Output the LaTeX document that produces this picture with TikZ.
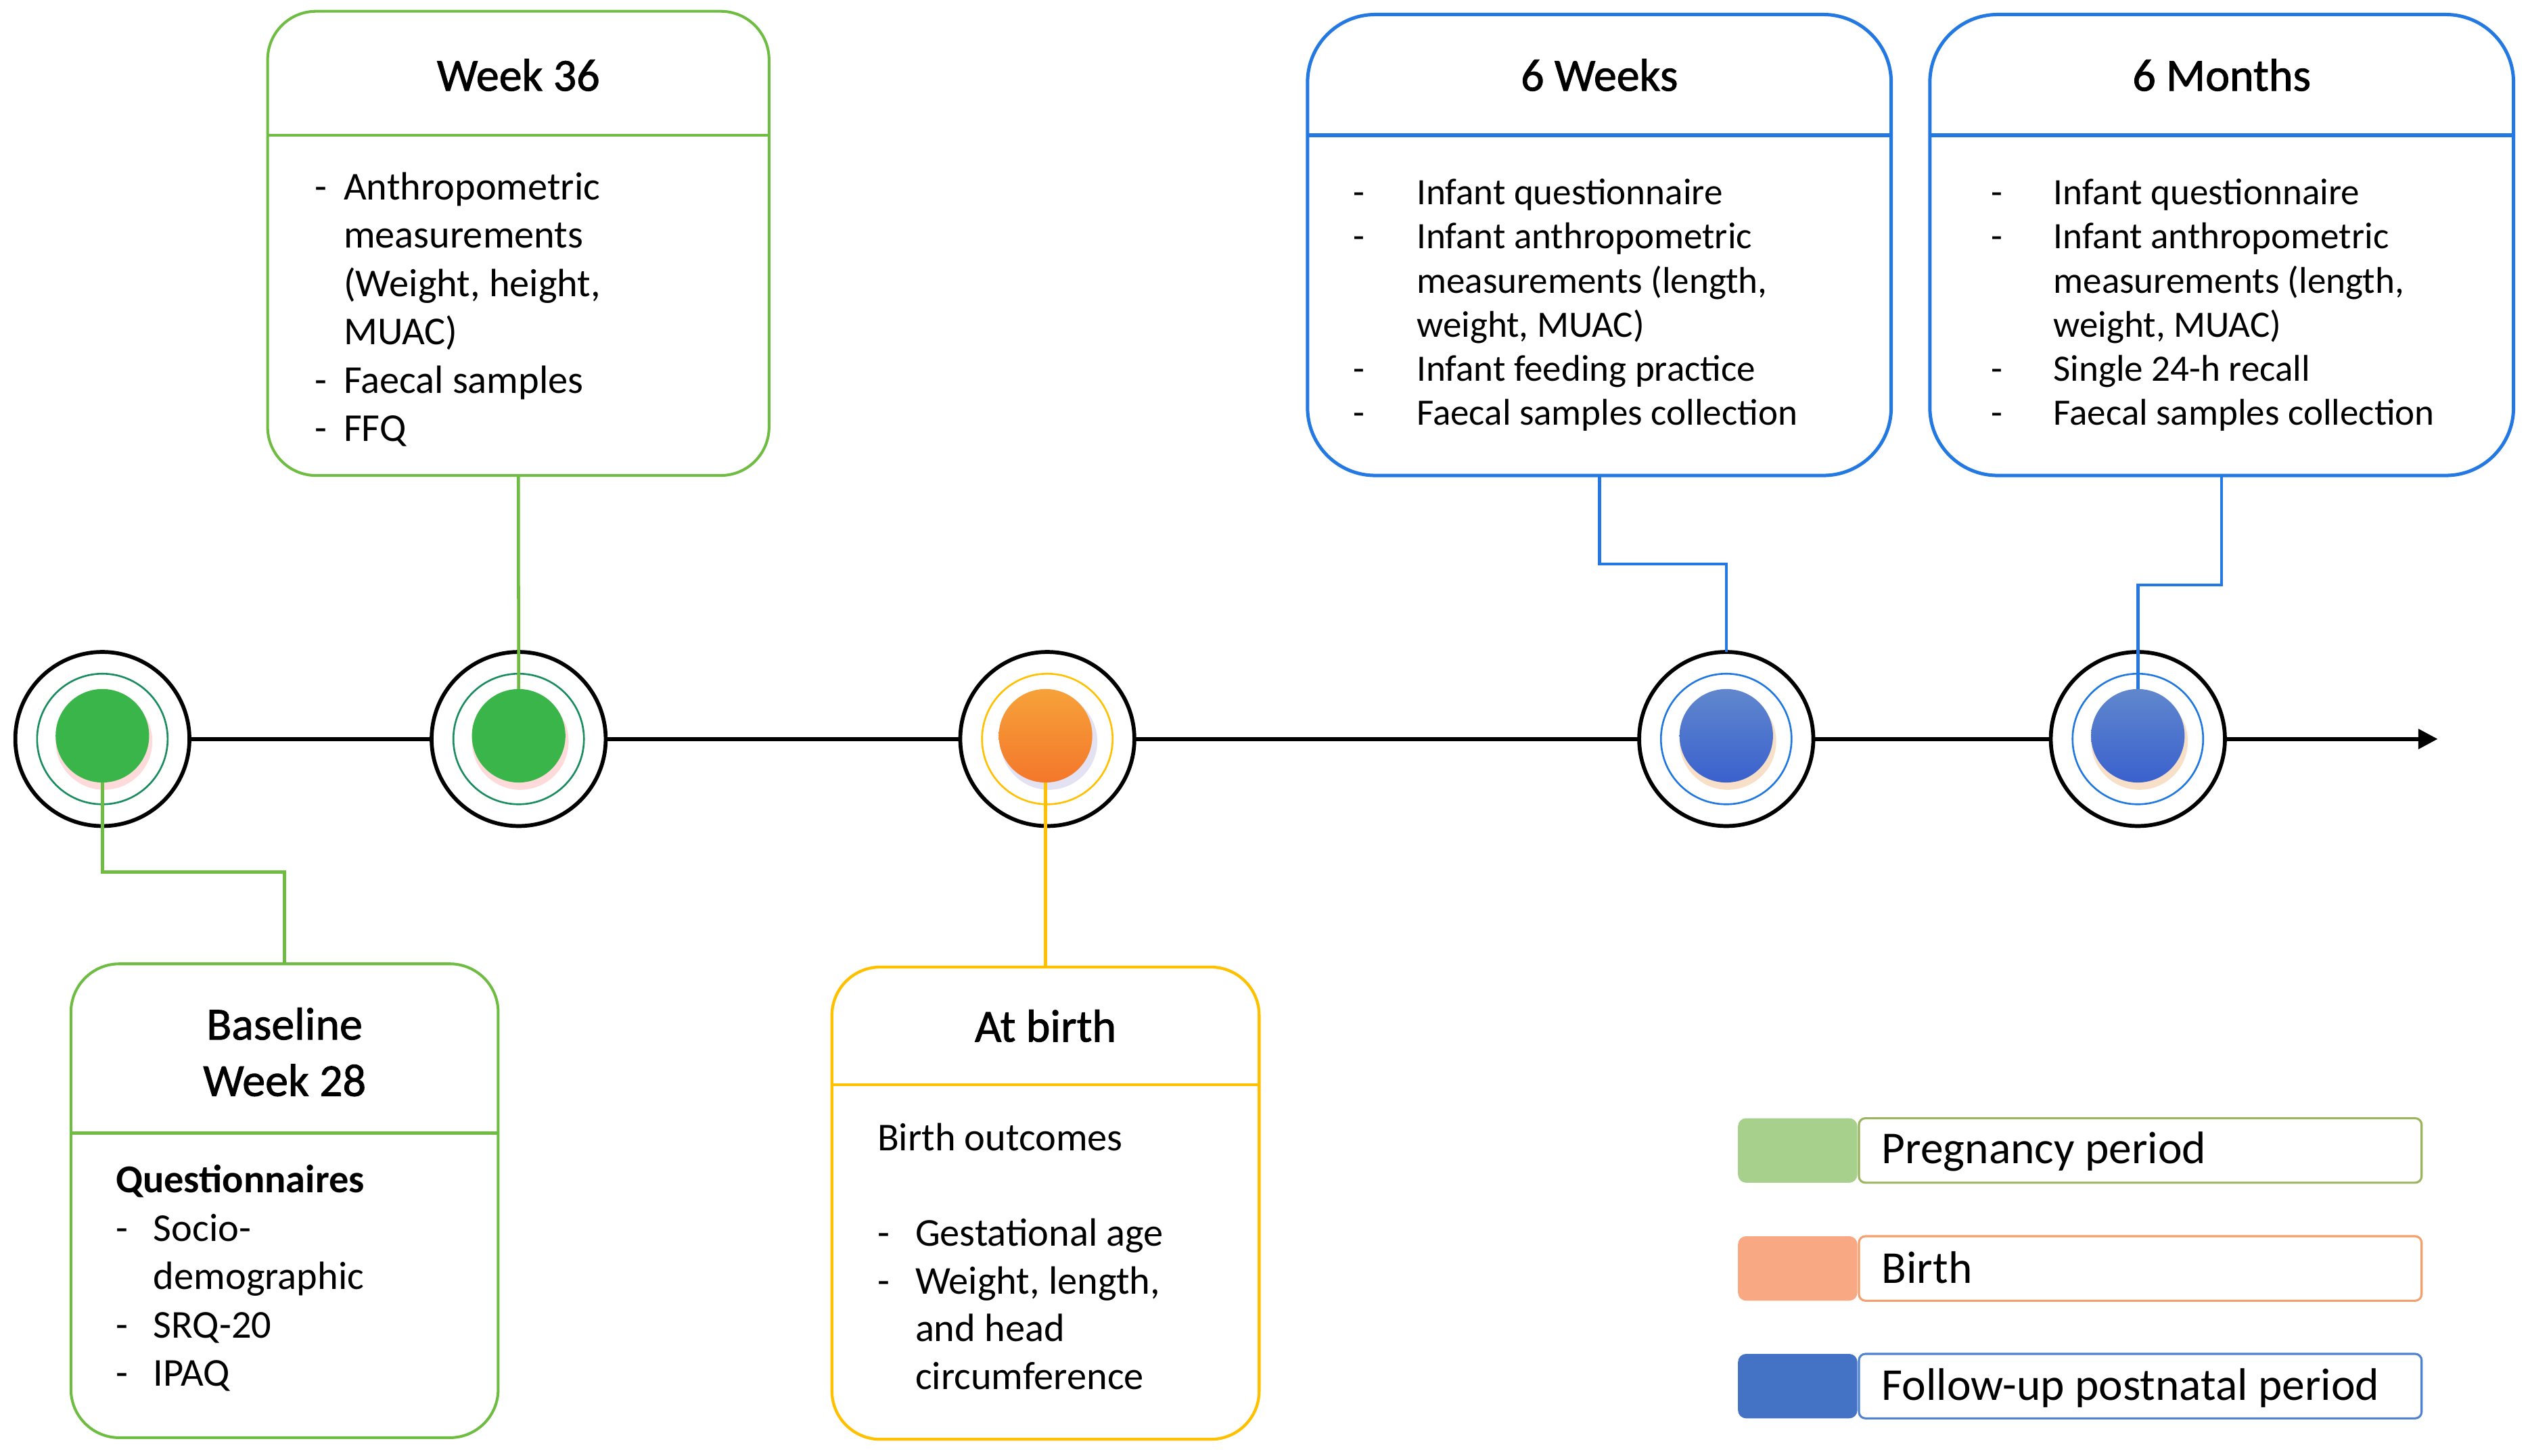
\documentclass[tikz,border=0pt]{standalone}
\usepackage{fontspec}
\setmainfont{Carlito}
\newfontfamily\ttlfont[FakeBold=1.3]{Carlito}
\usepackage{array}
\usetikzlibrary{arrows.meta}
\definecolor{gline}{RGB}{110,188,66}
\definecolor{gdisk}{RGB}{57,181,74}
\definecolor{gring}{RGB}{25,140,95}
\definecolor{yline}{RGB}{255,192,0}
\definecolor{odisk}{RGB}{243,125,45}
\definecolor{bline}{RGB}{36,120,226}
\definecolor{bdisk}{RGB}{68,114,196}
\definecolor{bring}{RGB}{31,119,224}
\definecolor{lgfill}{RGB}{168,208,141}
\definecolor{lgbord}{RGB}{155,180,95}
\definecolor{lofill}{RGB}{248,168,130}
\definecolor{lobord}{RGB}{244,160,110}
\definecolor{lbfill}{RGB}{68,114,196}
\definecolor{lbbord}{RGB}{80,130,210}
\newcommand{\dsh}[1]{\makebox[#1][l]{-}}
\begin{document}
\begin{tikzpicture}[x=1pt,y=-1pt,
  phasebox/.style={draw, rounded corners=30pt, inner sep=0pt, outer sep=0pt, fill=white},
  gbox/.style={phasebox, draw=gline, line width=1.7pt},
  ybox/.style={phasebox, draw=yline, line width=1.8pt},
  bbox/.style={phasebox, draw=bline, line width=2.1pt, rounded corners=42pt},
  ttl/.style={font=\ttlfont\fontsize{28.5}{35}\selectfont, align=center, inner sep=0pt},
  body/.style={font=\fontsize{24.5}{30}\selectfont, inner sep=0pt, anchor=base west},
  bbody/.style={font=\fontsize{23.1}{27.35}\selectfont, inner sep=0pt, anchor=base west},
  ring/.style={circle, draw=black, line width=2.4pt, fill=white, minimum size=108pt, inner sep=0pt, outer sep=0pt},
  iring/.style={circle, line width=1.1pt, minimum size=81pt, inner sep=0pt, outer sep=0pt},
  disk/.style={circle, minimum size=58pt, inner sep=0pt, outer sep=0pt},
  tl/.style={draw=black, line width=2.5pt},
  gconn/.style={draw=gline, line width=1.9pt},
  yconn/.style={draw=yline, line width=2.1pt},
  bconn/.style={draw=bline, line width=1.9pt},
  legsq/.style={rounded corners=5pt, minimum width=74pt, minimum height=40pt, inner sep=0pt, outer sep=0pt},
  legtx/.style={draw, fill=white, rounded corners=4pt, line width=1.3pt, minimum width=349pt, minimum height=40pt, inner sep=0pt, outer sep=0pt},
  legfont/.style={font=\fontsize{28.3}{34}\selectfont, inner sep=0pt, anchor=base west}
]
\useasboundingbox (0,0) rectangle (1568,903);

% ---------- timeline rings ----------
\node[ring] (r1) at (63.5,458.5) {};
\node[ring] (r2) at (321.7,458.5) {};
\node[ring] (r3) at (649.6,458.5) {};
\node[ring] (r4) at (1070.7,458.5) {};
\node[ring] (r5) at (1326,458.5) {};
\coordinate (tend) at (1512,458.5);

\draw[tl] (r1) -- (r2);
\draw[tl] (r2) -- (r3);
\draw[tl] (r3) -- (r4);
\draw[tl] (r4) -- (r5);
\draw[tl, -{Triangle[length=12pt,width=12pt]}] (r5) -- (tend);

\node[iring, draw=gring] (i1) at (63.5,458.5) {};
\node[iring, draw=gring] (i2) at (321.7,458.5) {};
\node[iring, draw=yline] (i3) at (649.6,458.5) {};
\node[iring, draw=bring] (i4) at (1070.7,458.5) {};
\node[iring, draw=bring] (i5) at (1326,458.5) {};

% soft shadows
\fill[red!25!pink!60, opacity=.55] (64.5,460) circle (30);
\fill[red!25!pink!60, opacity=.55] (322.7,460) circle (30);
\fill[cyan!20!blue!15, opacity=.7] (650.6,460) circle (30);
\fill[brown!45!orange!40, opacity=.6] (1071.7,460) circle (30);
\fill[brown!45!orange!40, opacity=.6] (1327,460) circle (30);

\node[disk, fill=gdisk] (d1) at (63.5,456.5) {};
\node[disk, fill=gdisk] (d2) at (321.7,456.5) {};
\node[disk, top color=odisk!80!yellow!90!white, bottom color=odisk!95!red] (d3) at (648.5,456.5) {};
\node[disk, top color=bdisk!85!white, bottom color=bdisk!85!blue] (d4) at (1070.7,456.5) {};
\node[disk, top color=bdisk!85!white, bottom color=bdisk!85!blue] (d5) at (1326,456.5) {};

% ---------- boxes ----------
\node[gbox, minimum width=311pt, minimum height=288pt] (w36) at (321.5,151) {};
\draw[draw=gline, line width=1.7pt] (w36.west |- 0,84) -- (w36.east |- 0,84);
\node[ttl] (w36t) at (321.5,46.5) {Week 36};
\node[body] (w36b) at (195,123.8) {\begin{tabular}[t]{@{}l@{}l@{}}
\dsh{18pt} & Anthropometric\\
 & measurements\\
 & (Weight, height,\\
 & MUAC)\\
\dsh{18pt} & Faecal samples\\
\dsh{18pt} & FFQ
\end{tabular}};

\node[gbox, minimum width=265pt, minimum height=294pt] (base) at (176.5,745) {};
\draw[draw=gline, line width=1.7pt] (base.west |- 0,703) -- (base.east |- 0,703);
\node[ttl] (baset) at (176.5,652.7) {Baseline\\Week 28};
\node[body] (baseb) at (71.6,740) {\begin{tabular}[t]{@{}l@{}l@{}}
\multicolumn{2}{@{}l@{}}{\bfseries Questionnaires}\\
\dsh{23.4pt} & Socio-\\
 & demographic\\
\dsh{23.4pt} & SRQ-20\\
\dsh{23.4pt} & IPAQ
\end{tabular}};

\node[ybox, minimum width=265pt, minimum height=293pt] (birth) at (648.5,746.5) {};
\draw[draw=yline, line width=1.8pt] (birth.west |- 0,673) -- (birth.east |- 0,673);
\node[ttl] (birtht) at (648.5,636.5) {At birth};
\node[body, font=\fontsize{24.5}{29.6}\selectfont] (birthb) at (544,714) {\begin{tabular}[t]{@{}l@{}l@{}}
\multicolumn{2}{@{}l@{}}{Birth outcomes}\\
 & \\
\dsh{23.5pt} & Gestational age\\
\dsh{23.5pt} & Weight, length,\\
 & and head\\
 & circumference
\end{tabular}};

\node[bbox, minimum width=362pt, minimum height=286pt] (wk6) at (992,152) {};
\draw[draw=bline, line width=2.6pt] (wk6.west |- 0,84) -- (wk6.east |- 0,84);
\node[ttl] (wk6t) at (992,46.5) {6 Weeks};
\node[bbody] (wk6b) at (839,127) {\begin{tabular}[t]{@{}l@{}l@{}}
\dsh{39.5pt} & Infant questionnaire\\
\dsh{39.5pt} & Infant anthropometric\\
 & measurements (length,\\
 & weight, MUAC)\\
\dsh{39.5pt} & Infant feeding practice\\
\dsh{39.5pt} & Faecal samples collection
\end{tabular}};

\node[bbox, minimum width=362pt, minimum height=286pt] (mo6) at (1378,152) {};
\draw[draw=bline, line width=2.6pt] (mo6.west |- 0,84) -- (mo6.east |- 0,84);
\node[ttl] (mo6t) at (1378,46.5) {6 Months};
\node[bbody] (mo6b) at (1235,127) {\begin{tabular}[t]{@{}l@{}l@{}}
\dsh{38.5pt} & Infant questionnaire\\
\dsh{38.5pt} & Infant anthropometric\\
 & measurements (length,\\
 & weight, MUAC)\\
\dsh{38.5pt} & Single 24-h recall\\
\dsh{38.5pt} & Faecal samples collection
\end{tabular}};

% ---------- connectors ----------
\coordinate (j1) at (63.5,541);
\draw[gconn] (d1.south) -- (j1) -| (base.north);
\draw[gconn] (w36.south) -- (d2.north);
\draw[yconn] (d3.south) -- (birth.north);
\coordinate (j4) at (992,350);
\draw[bconn] (wk6.south) -- (j4) -| (r4.north);
\coordinate (j5) at (1378,363);
\draw[bconn] (mo6.south) -- (j5) -| (d5.north);

% ---------- legend ----------
\node[legtx, draw=lgbord] (l1t) at (1327.5,713.8) {};
\node[legsq, fill=lgfill] (l1s) at (1115,713.8) {};
\node[legfont] (l1) at (1167,722) {Pregnancy period};

\node[legtx, draw=lobord] (l2t) at (1327.5,787) {};
\node[legsq, fill=lofill] (l2s) at (1115,787) {};
\node[legfont] (l2) at (1167,796) {Birth};

\node[legtx, draw=lbbord] (l3t) at (1327.5,860) {};
\node[legsq, fill=lbfill] (l3s) at (1115,860) {};
\node[legfont] (l3) at (1167,868.6) {Follow-up postnatal period};
\end{tikzpicture}
\end{document}
